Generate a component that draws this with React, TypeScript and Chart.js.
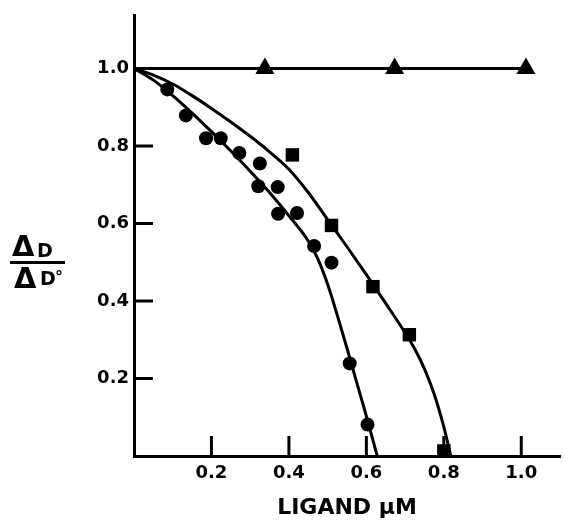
import React, { useEffect, useRef } from 'react';
import { Chart, registerables } from 'chart.js';

Chart.register(...registerables);

// Measured points (circles)
const circleX = [0.086, 0.134, 0.186, 0.224, 0.272, 0.325, 0.321, 0.371, 0.372, 0.421, 0.465, 0.51, 0.557, 0.603];
const circleY = [0.946, 0.879, 0.82, 0.82, 0.782, 0.755, 0.696, 0.694, 0.625, 0.627, 0.542, 0.499, 0.239, 0.081];

// Measured points (squares)
const squareX = [0.409, 0.51, 0.617, 0.711, 0.8];
const squareY = [0.777, 0.595, 0.437, 0.313, 0.013];

// Measured points (triangles)
const triangleX = [0.338, 0.673, 1.012];
const triangleY = [1.0, 1.0, 1.0];

// Fitted curves
const circleFitX = [0, 0.05, 0.1, 0.15, 0.2, 0.25, 0.3, 0.35, 0.4, 0.45, 0.475, 0.5, 0.525, 0.55, 0.575, 0.6, 0.628];
const circleFitY = [1.0, 0.97, 0.93, 0.885, 0.837, 0.787, 0.735, 0.68, 0.62, 0.555, 0.508, 0.443, 0.363, 0.278, 0.19, 0.103, 0.0];

const squareFitX = [0, 0.05, 0.1, 0.15, 0.2, 0.25, 0.3, 0.35, 0.4, 0.45, 0.5, 0.55, 0.6, 0.65, 0.7, 0.725, 0.75, 0.775, 0.8, 0.818];
const squareFitY = [1.0, 0.983, 0.96, 0.93, 0.897, 0.862, 0.825, 0.785, 0.74, 0.68, 0.61, 0.54, 0.468, 0.394, 0.318, 0.276, 0.225, 0.16, 0.075, 0.0];

const flatFitX = [0, 1.012];
const flatFitY = [1.0, 1.0];

// Axes
const xTicks = [0.2, 0.4, 0.6, 0.8, 1.0];
const yTicks = [0.2, 0.4, 0.6, 0.8, 1.0];
const xTitle = 'LIGAND μM';
const yLabelTop = ['Δ', 'D'];
const yLabelBottom = ['Δ', 'D', '°'];

const FONT = '"DejaVu Sans", "Liberation Sans", sans-serif';

const toXY = (xs: number[], ys: number[]) => xs.map((x, i) => ({ x, y: ys[i] }));

const decor = {
  id: 'decor',
  afterDraw(chart: any) {
    const { ctx, chartArea, scales } = chart;
    ctx.save();
    ctx.strokeStyle = '#000';
    ctx.fillStyle = '#000';
    ctx.lineWidth = 3;
    ctx.lineCap = 'butt';
    // inward tick marks
    xTicks.forEach((v) => {
      const px = scales.x.getPixelForValue(v);
      ctx.beginPath();
      ctx.moveTo(px, chartArea.bottom);
      ctx.lineTo(px, chartArea.bottom - 20);
      ctx.stroke();
    });
    yTicks.forEach((v) => {
      const py = scales.y.getPixelForValue(v);
      ctx.beginPath();
      ctx.moveTo(chartArea.left, py);
      ctx.lineTo(chartArea.left + 19, py);
      ctx.stroke();
    });
    // y-axis label as a fraction
    ctx.textAlign = 'left';
    ctx.textBaseline = 'alphabetic';
    ctx.font = `bold 29px ${FONT}`;
    ctx.fillText(yLabelTop[0], 12, 256);
    ctx.font = `bold 19px ${FONT}`;
    ctx.fillText(yLabelTop[1], 37, 257);
    ctx.beginPath();
    ctx.moveTo(10, 262.5);
    ctx.lineTo(65, 262.5);
    ctx.stroke();
    ctx.font = `bold 29px ${FONT}`;
    ctx.fillText(yLabelBottom[0], 14, 288);
    ctx.font = `bold 19px ${FONT}`;
    ctx.fillText(yLabelBottom[1], 40, 285);
    ctx.font = `bold 16px ${FONT}`;
    ctx.fillText(yLabelBottom[2], 55, 282);
    ctx.restore();
  },
};

export default function App() {
  const ref = useRef<HTMLCanvasElement | null>(null);

  useEffect(() => {
    if (!ref.current) return;
    const lineDs = (xs: number[], ys: number[]) => ({
      data: toXY(xs, ys),
      showLine: true,
      borderColor: '#000',
      borderWidth: 3,
      pointRadius: 0,
      fill: false,
      cubicInterpolationMode: 'monotone' as const,
    });
    const pointDs = (xs: number[], ys: number[], style: string, r: number) => ({
      data: toXY(xs, ys),
      showLine: false,
      pointStyle: style,
      pointRadius: r,
      pointBackgroundColor: '#000',
      pointBorderColor: '#000',
      pointBorderWidth: 0,
      clip: false as const,
    });
    const chart = new Chart(ref.current, {
      type: 'scatter',
      data: {
        datasets: [
          lineDs(flatFitX, flatFitY),
          lineDs(circleFitX, circleFitY),
          lineDs(squareFitX, squareFitY),
          pointDs(circleX, circleY, 'circle', 7),
          pointDs(squareX, squareY, 'rect', 9.5),
          pointDs(triangleX, triangleY, 'triangle', 11),
        ] as any,
      },
      options: {
        responsive: false,
        animation: false,
        layout: { autoPadding: false, padding: { top: 13, right: 4, left: 0, bottom: 0 } },
        plugins: {
          legend: { display: false },
          tooltip: { enabled: false },
        },
        scales: {
          x: {
            type: 'linear',
            min: 0,
            max: 1.1,
            grid: { display: false, drawTicks: false },
            border: { display: true, color: '#000', width: 3 },
            afterBuildTicks: (scale: any) => {
              scale.ticks = xTicks.map((v) => ({ value: v }));
            },
            afterFit: (scale: any) => {
              scale.height = 66;
            },
            ticks: {
              color: '#000',
              padding: 7,
              font: { family: FONT, size: 18, weight: 'bold' },
              callback: (v: any) => Number(v).toFixed(1),
            },
            title: {
              display: true,
              text: xTitle,
              color: '#000',
              font: { family: FONT, size: 22, weight: 'bold' },
              padding: { top: 0, bottom: 1 },
            },
          },
          y: {
            type: 'linear',
            min: 0,
            max: 1.136,
            grid: { display: false, drawTicks: false },
            border: { display: true, color: '#000', width: 3 },
            afterBuildTicks: (scale: any) => {
              scale.ticks = yTicks.map((v) => ({ value: v }));
            },
            afterFit: (scale: any) => {
              scale.width = 134;
            },
            ticks: {
              color: '#000',
              padding: 5,
              font: { family: FONT, size: 18, weight: 'bold' },
              callback: (v: any) => Number(v).toFixed(1),
            },
          },
        },
      } as any,
      plugins: [decor],
    });
    return () => chart.destroy();
  }, []);

  return (
    <div style={{ position: 'fixed', left: 0, top: 0, width: 564, height: 522, background: '#fff' }}>
      <canvas ref={ref} width={564} height={522} style={{ display: 'block' }} />
    </div>
  );
}
